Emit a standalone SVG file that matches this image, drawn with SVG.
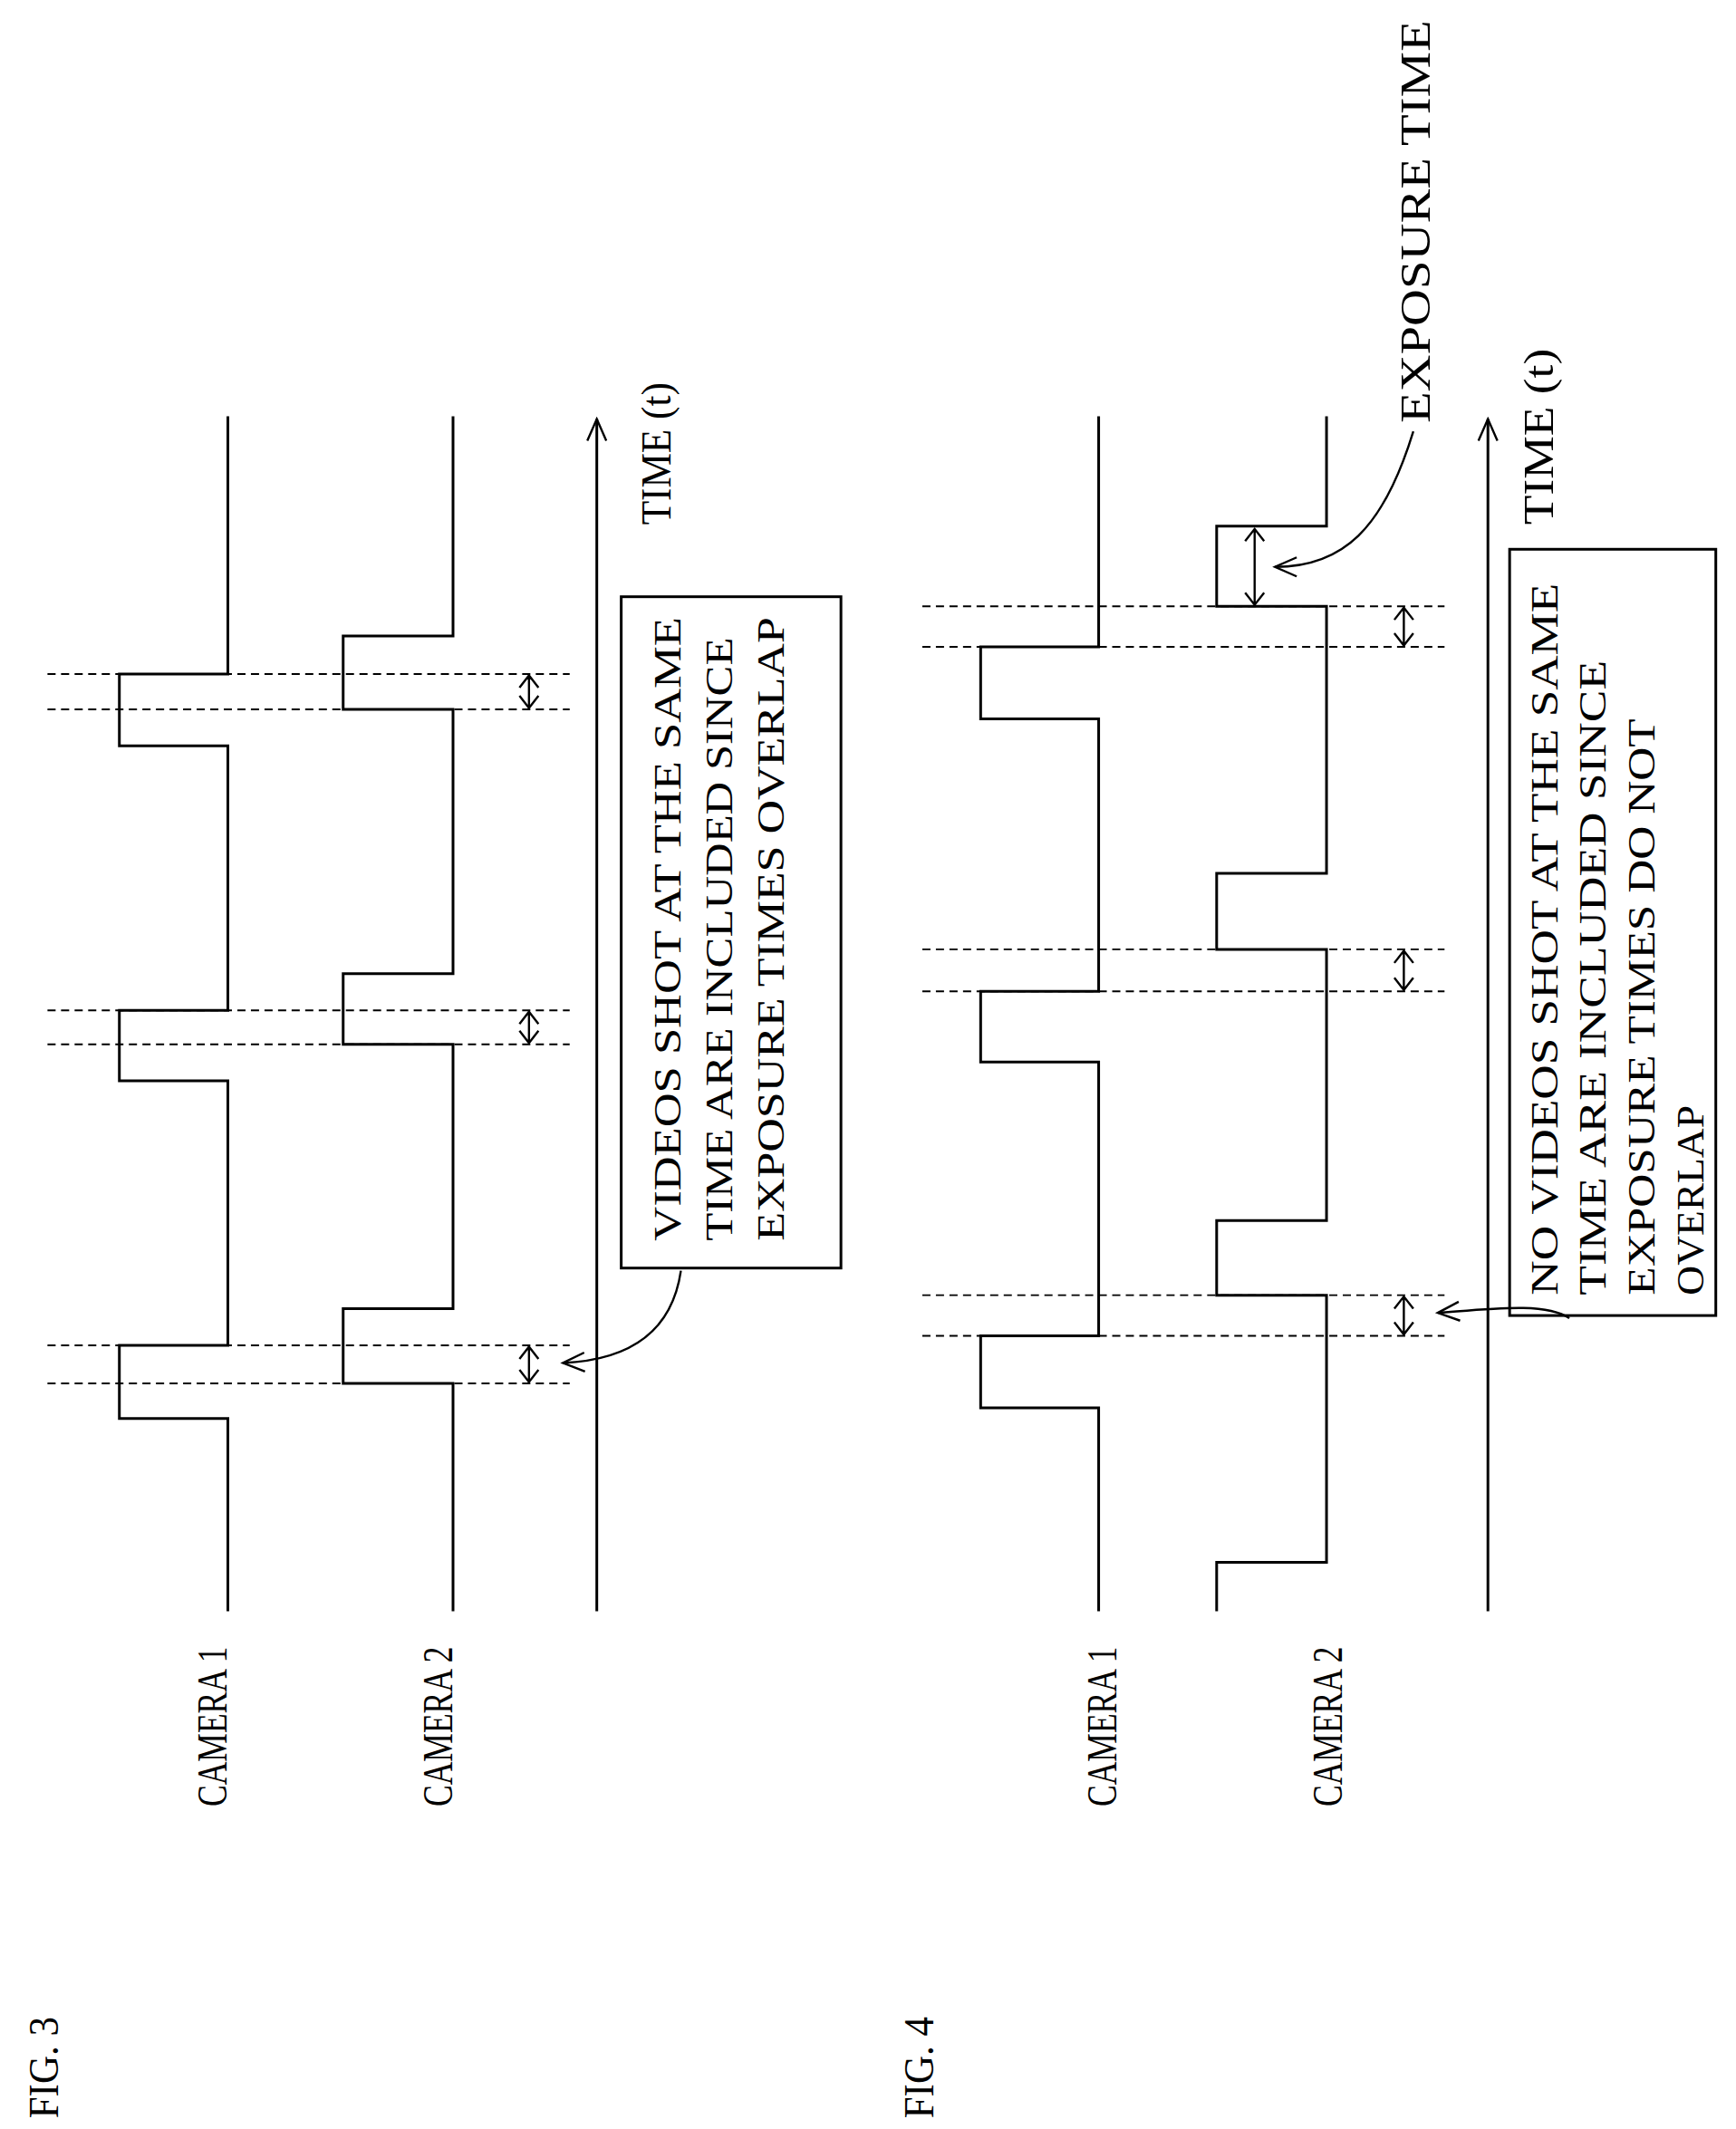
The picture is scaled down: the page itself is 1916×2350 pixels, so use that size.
<svg xmlns="http://www.w3.org/2000/svg" width="1916" height="2350" viewBox="0 0 1916 2350">
<defs>
<style>
.s{fill:none;stroke:#000;stroke-width:2}
.a{fill:none;stroke:#000;stroke-width:1.6}
.d{fill:none;stroke:#000;stroke-width:1.3;stroke-dasharray:6 4}
.t{font-family:"Liberation Serif",serif;font-size:31px;fill:#000}
.b{font-family:"Liberation Serif",serif;font-size:28px;fill:#000}
</style>
<marker id="v" viewBox="0 0 20 20" refX="18" refY="10" markerWidth="20" markerHeight="20" markerUnits="userSpaceOnUse" orient="auto">
<path d="M2,3 L18,10 L2,17" fill="none" stroke="#000" stroke-width="1.6"/>
</marker>
</defs>
<rect width="1916" height="2350" fill="#fff"/>
<g transform="scale(1.497)">
<g id="fig3">
<g id="connectors3">
<path class="s" d="M168,307 V497 H88 V550 H168 V745 H88 V797 H168 V992 H88 V1046 H168 V1188"/>
<path class="s" d="M334,307 V469 H253 V523 H334 V718 H253 V770 H334 V965 H253 V1020 H334 V1188"/>
<path class="d" d="M35,497 H420 M35,523 H420 M35,745 H420 M35,770 H420 M35,992 H420 M35,1020 H420"/>
<path class="a" d="M390,498 V522 M383,507 L390,498 L397,507 M383,513 L390,522 L397,513
M390,746 V769 M383,755 L390,746 L397,755 M383,760 L390,769 L397,760
M390,993 V1019 M383,1002 L390,993 L397,1002 M383,1010 L390,1019 L397,1010"/>
<path class="s" d="M440,1188 V309" marker-end="url(#v)"/>
<path class="a" d="M502,937 C495,985 460,1003 415,1005" marker-end="url(#v)"/>
</g>
<g id="box3">
<rect class="s" x="458" y="440" width="162" height="495"/>
<text class="b" transform="translate(502,915) rotate(-90)" textLength="460" lengthAdjust="spacingAndGlyphs">VIDEOS SHOT AT THE SAME</text>
<text class="b" transform="translate(540,915) rotate(-90)" textLength="445" lengthAdjust="spacingAndGlyphs">TIME ARE INCLUDED SINCE</text>
<text class="b" transform="translate(578,915) rotate(-90)" textLength="460" lengthAdjust="spacingAndGlyphs">EXPOSURE TIMES OVERLAP</text>
</g>
<text class="t" transform="translate(167,1332) rotate(-90)" textLength="118" lengthAdjust="spacingAndGlyphs">CAMERA 1</text>
<text class="t" transform="translate(333,1332) rotate(-90)" textLength="118" lengthAdjust="spacingAndGlyphs">CAMERA 2</text>
<text class="t" transform="translate(494,387) rotate(-90)" textLength="105" lengthAdjust="spacingAndGlyphs">TIME (t)</text>
<text class="t" transform="translate(43,1562) rotate(-90)" textLength="75" lengthAdjust="spacingAndGlyphs">FIG. 3</text>
</g>
<g id="fig4">
<g id="connectors4">
<path class="s" d="M810,307 V477 H723 V530 H810 V731 H723 V783 H810 V985 H723 V1038 H810 V1188"/>
<path class="s" d="M978,307 V388 H897 V447 H978 V644 H897 V700 H978 V900 H897 V955 H978 V1152 H897 V1188"/>
<path class="d" d="M680,447 H1065 M680,477 H1065 M680,700 H1065 M680,731 H1065 M680,955 H1065 M680,985 H1065"/>
<path class="a" d="M1035,448 V476 M1028,457 L1035,448 L1042,457 M1028,467 L1035,476 L1042,467
M1035,701 V730 M1028,710 L1035,701 L1042,710 M1028,721 L1035,730 L1042,721
M1035,956 V984 M1028,965 L1035,956 L1042,965 M1028,975 L1035,984 L1042,975"/>
<path class="a" d="M925,390 V446 M918,399 L925,390 L932,399 M918,437 L925,446 L932,437"/>
<path class="a" d="M1042,318 C1020,390 990,418 940,418" marker-end="url(#v)"/>
<path class="s" d="M1097,1188 V309" marker-end="url(#v)"/>
<path class="a" d="M1157,972 C1140,960 1100,965 1060,968" marker-end="url(#v)"/>
</g>
<g id="box4">
<rect class="s" x="1113" y="405" width="152" height="565"/>
<text class="b" transform="translate(1148,955) rotate(-90)" textLength="525" lengthAdjust="spacingAndGlyphs">NO VIDEOS SHOT AT THE SAME</text>
<text class="b" transform="translate(1184,955) rotate(-90)" textLength="468" lengthAdjust="spacingAndGlyphs">TIME ARE INCLUDED SINCE</text>
<text class="b" transform="translate(1220,955) rotate(-90)" textLength="425" lengthAdjust="spacingAndGlyphs">EXPOSURE TIMES DO NOT</text>
<text class="b" transform="translate(1256,955) rotate(-90)" textLength="140" lengthAdjust="spacingAndGlyphs">OVERLAP</text>
</g>
<text class="t" transform="translate(823,1332) rotate(-90)" textLength="118" lengthAdjust="spacingAndGlyphs">CAMERA 1</text>
<text class="t" transform="translate(989,1332) rotate(-90)" textLength="118" lengthAdjust="spacingAndGlyphs">CAMERA 2</text>
<text class="t" transform="translate(1145,387) rotate(-90)" textLength="130" lengthAdjust="spacingAndGlyphs">TIME (t)</text>
<text class="t" transform="translate(1054,312) rotate(-90)" textLength="297" lengthAdjust="spacingAndGlyphs">EXPOSURE TIME</text>
<text class="t" transform="translate(688,1562) rotate(-90)" textLength="75" lengthAdjust="spacingAndGlyphs">FIG. 4</text>
</g>
</g>
</svg>
